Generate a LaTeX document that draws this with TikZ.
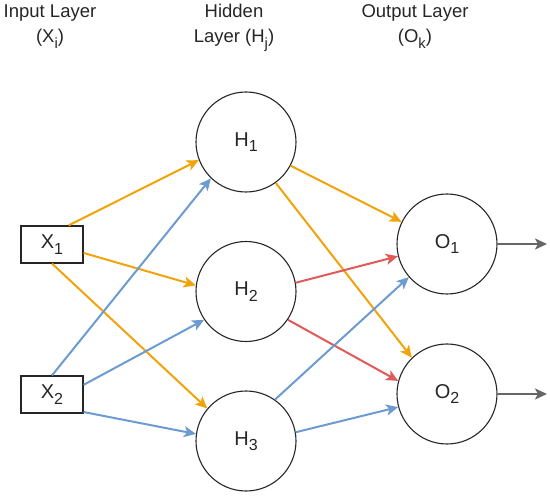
\documentclass[tikz,border=0pt]{standalone}
\usepackage{fontspec}
\setmainfont{Liberation Sans}
\usetikzlibrary{arrows.meta}
\definecolor{edgeorange}{HTML}{F0A30A}
\definecolor{edgeblue}{HTML}{6C9BD2}
\definecolor{edgered}{HTML}{E05A5A}
\definecolor{edgegray}{HTML}{666666}
\newcommand{\mysub}[1]{\raisebox{-0.28em}{\fontsize{0.8em}{1em}\selectfont #1}}
\tikzset{
  every node/.style={font=\fontsize{18.5}{25}\selectfont, text=black!85},
  neuron/.style={circle, draw=black!85, line width=1.1pt, minimum size=100pt, inner sep=0pt, font=\fontsize{20}{24}\selectfont},
  inbox/.style={rectangle, draw=black!85, line width=1.2pt, minimum width=62pt, minimum height=37pt, inner sep=0pt, font=\fontsize{20}{24}\selectfont},
  header/.style={align=center, anchor=base},
  conn/.style={line width=2pt, -{Stealth[length=12pt,width=11pt,inset=3pt]}},
  orangeconn/.style={conn, draw=edgeorange},
  blueconn/.style={conn, draw=edgeblue},
  redconn/.style={conn, draw=edgered},
  outconn/.style={conn, draw=edgegray}
}
\begin{document}
\begin{tikzpicture}[x=1pt,y=-1pt]
\useasboundingbox (0,0) rectangle (550,500);
% headers (anchor base = last line's baseline)
\node[header] (hin) at (50,43) {Input Layer\\(X\mysub{i})};
\node[header] (hhid) at (234,43) {Hidden\\Layer (H\mysub{j})};
\node[header] (hout) at (415,43) {Output Layer\\(O\mysub{k})};
% nodes
\node[inbox] (X1) at (52,244.5) {X\mysub{1}};
\node[inbox] (X2) at (52,394.5) {X\mysub{2}};
\node[neuron] (H1) at (246,142) {H\mysub{1}};
\node[neuron] (H2) at (246,291.5) {H\mysub{2}};
\node[neuron] (H3) at (246,441) {H\mysub{3}};
\node[neuron] (O1) at (447,244) {O\mysub{1}};
\node[neuron] (O2) at (447,394) {O\mysub{2}};
\coordinate (E1) at (547,244);
\coordinate (E2) at (547,394);
% input -> hidden
\draw[orangeconn] (X1.49) -- (H1.201);
\draw[orangeconn] (X1.-15) -- (H2.173);
\draw[orangeconn] (X1.south) -- (H3.140);
\draw[blueconn] (X2.north) -- (H1.226);
\draw[blueconn] (X2.17) -- (H2.214);
\draw[blueconn] (X2.-29) -- (H3.172);
% hidden -> output
\draw[orangeconn] (H1.-28) -- (O1.154);
\draw[orangeconn] (H1.-54) -- (O2.134);
\draw[redconn] (H2.10) -- (O1.194);
\draw[redconn] (H2.-34) -- (O2.165);
\draw[blueconn] (H3.55) -- (O1.221);
\draw[blueconn] (H3.10) -- (O2.195);
% outputs
\draw[outconn] (O1.east) -- (E1);
\draw[outconn] (O2.east) -- (E2);
\end{tikzpicture}
\end{document}
